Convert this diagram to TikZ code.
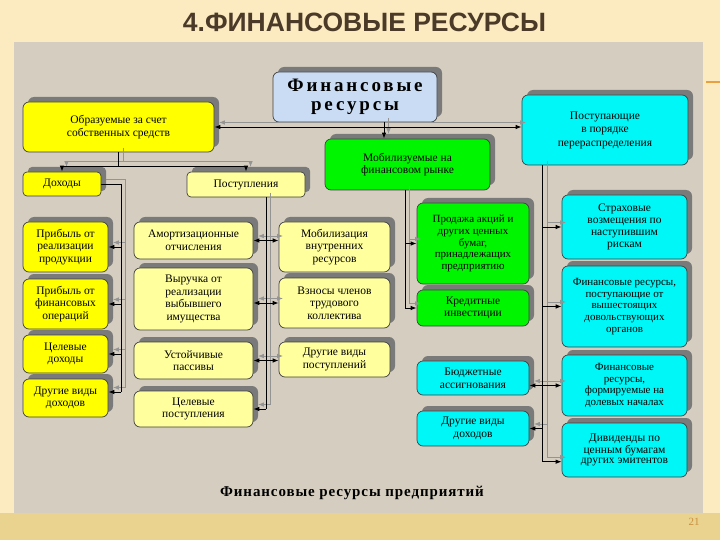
\documentclass[tikz,border=0pt]{standalone}
\usepackage{fontspec}
\setmainfont{Liberation Serif}
\newfontfamily\titlefont{Liberation Sans}
\newfontfamily\wideserif[LetterSpace=15]{Liberation Serif}
\newfontfamily\capserif[LetterSpace=6]{Liberation Serif}
\usetikzlibrary{arrows.meta,shadows}

\definecolor{bgtop}{HTML}{FCEBC0}
\definecolor{bgbot}{HTML}{E9D38F}
\definecolor{linen}{HTML}{D5CEC0}
\definecolor{titlecol}{HTML}{4B3A28}
\definecolor{ybright}{HTML}{FFFF00}
\definecolor{ypale}{HTML}{FFFF9E}
\definecolor{gbright}{HTML}{00F500}
\definecolor{cbright}{HTML}{00F7F7}
\definecolor{topblue}{HTML}{CADCF4}
\definecolor{orangeline}{HTML}{E8A040}
\definecolor{pagenum}{HTML}{C9923F}

\newcommand\boxfont{\fontsize{11.5}{12.6}\selectfont}

\newcommand\links[1]{%
\draw[#1,myarr] (top.south -| xT) -- (mob.north -| xT);
\draw[#1,mydarr] (obr.east |- yB) -- (pos.west |- yB);
\draw[#1,myarr] (obr.south) -- (obr.south |- yD) -| (doh.north);
\draw[#1,myarr] (obr.south |- yD) -| (post.north);
\draw[#1] (doh.east) -| (xL |- yL4);
\draw[#1,myarr] (xL |- l1.east) -- (l1.east);
\draw[#1,myarr] (xL |- l2.east) -- (l2.east);
\draw[#1,myarr] (xL |- l3.east) -- (l3.east);
\draw[#1,myarr] (xL |- yL4) -- (l4.east |- yL4);
\draw[#1] (post.south -| xM) -- (xM |- m4.east);
\draw[#1,mydarr] (m1.east) -- (m1.east -| n1.west);
\draw[#1,mydarr] (m2.east |- n2.west) -- (n2.west);
\draw[#1,mydarr] (m3.east) -- (m3.east -| n3.west);
\draw[#1,myarr] (xM |- m4.east) -- (m4.east);
\draw[#1,myarr] (mob.south -| xG) |- (g2.west);
\draw[#1,myarr] (xG |- g1.west) -- (g1.west);
\draw[#1] (pos.south -| xC) -- (xC |- yC5);
\draw[#1,myarr] (xC |- c1.west) -- (c1.west);
\draw[#1,myarr] (xC |- c2.west) -- (c2.west);
\draw[#1,mydarr] (b1.east |- c3.west) -- (c3.west);
\draw[#1,myarr] (xC |- b2.east) -- (b2.east);
\draw[#1,myarr] (xC |- yC5) -- (c4.west |- yC5);
}

\begin{document}
\begin{tikzpicture}[x=1pt,y=-1pt,
  box/.style={draw=black!75, line width=0.7pt, rounded corners=6pt, align=center,
    inner sep=1pt, font=\boxfont,
    drop shadow={shadow xshift=5pt, shadow yshift=5pt, fill=black!52, opacity=1}},
  yb/.style={box, fill=ybright},
  yp/.style={box, fill=ypale},
  gb/.style={box, fill=gbright},
  cb/.style={box, fill=cbright},
  myarr/.style={-{Latex[length=6pt,width=4.5pt]}},
  mydarr/.style={{Latex[length=6pt,width=4.5pt]}-{Latex[length=6pt,width=4.5pt]}},
  mainline/.style={draw=black, line width=0.9pt},
  shline/.style={draw=black!42, line width=0.9pt}]

\useasboundingbox (0,0) rectangle (720,540);
\fill[bgtop] (0,0) rectangle (720,540);
\fill[bgbot] (0,513) rectangle (720,540);
\fill[linen] (14,42) rectangle (703,513);
\draw[orangeline, line width=1.2pt] (706,82) -- (720,82);

\node[font=\titlefont\bfseries\fontsize{26.5}{29}\selectfont, text=titlecol, anchor=base] (title) at (364.5,32) {4.ФИНАНСОВЫЕ РЕСУРСЫ};
\node[font=\fontsize{11}{12}\selectfont, text=pagenum] (page) at (694,522) {21};

% boxes
\node[box, fill=topblue, minimum width=164pt, minimum height=50pt,
  font=\wideserif\bfseries\fontsize{19}{19.5}\selectfont] (top) at (355,97) {Финансовые\\ресурсы};
\node[yb, minimum width=191pt, minimum height=50pt] (obr) at (118.5,127) {Образуемые за счет\\собственных средств};
\node[gb, minimum width=165pt, minimum height=51pt] (mob) at (407.5,164.5) {Мобилизуемые на\\финансовом  рынке};
\node[cb, minimum width=166pt, minimum height=70pt, font=\fontsize{11.5}{13.5}\selectfont] (pos) at (605,130) {Поступающие\\в порядке\\перераспределения};
\node[yb, minimum width=78pt, minimum height=24pt, rounded corners=4pt] (doh) at (62,184) {Доходы};
\node[yp, minimum width=118pt, minimum height=25pt, rounded corners=4pt] (post) at (246,184.5) {Поступления};

\node[yb, minimum width=85pt, minimum height=50pt] (l1) at (65.5,247) {Прибыль от\\реализации\\продукции};
\node[yb, minimum width=85pt, minimum height=50pt] (l2) at (65.5,304) {Прибыль от\\финансовых\\операций};
\node[yb, minimum width=85pt, minimum height=38pt] (l3) at (65.5,354) {Целевые\\доходы};
\node[yb, minimum width=85pt, minimum height=38pt] (l4) at (65.5,398) {Другие виды\\доходов};

\node[yp, minimum width=119pt, minimum height=37pt] (m1) at (193.5,240.5) {Амортизационные\\отчисления};
\node[yp, minimum width=119pt, minimum height=62pt] (m2) at (193.5,299) {Выручка от\\реализации\\выбывшего\\имущества};
\node[yp, minimum width=119pt, minimum height=37pt] (m3) at (193.5,360.5) {Устойчивые\\пассивы};
\node[yp, minimum width=119pt, minimum height=36pt] (m4) at (193.5,409) {Целевые\\поступления};

\node[yp, minimum width=111pt, minimum height=50pt] (n1) at (334.5,247) {Мобилизация\\внутренних\\ресурсов};
\node[yp, minimum width=111pt, minimum height=50pt] (n2) at (334.5,303) {Взносы членов\\трудового\\коллектива};
\node[yp, minimum width=111pt, minimum height=35pt] (n3) at (334.5,359.5) {Другие виды\\поступлений};

\node[gb, minimum width=112pt, minimum height=81pt, font=\fontsize{11}{11.8}\selectfont] (g1) at (473,243.5) {Продажа акций и\\других ценных\\бумаг,\\принадлежащих\\предприятию};
\node[gb, minimum width=112pt, minimum height=36pt] (g2) at (473,308) {Кредитные\\инвестиции};

\node[cb, minimum width=112pt, minimum height=34pt] (b1) at (473,378) {Бюджетные\\ассигнования};
\node[cb, minimum width=112pt, minimum height=35pt] (b2) at (473,428.5) {Другие виды\\доходов};

\node[cb, minimum width=125pt, minimum height=64pt, font=\fontsize{11.5}{12}\selectfont] (c1) at (624.5,227) {Страховые\\возмещения  по\\наступившим\\рискам};
\node[cb, minimum width=125pt, minimum height=81pt, font=\fontsize{11}{11.6}\selectfont] (c2) at (624.5,306.5) {Финансовые ресурсы,\\поступающие от\\вышестоящих\\довольствующих\\органов};
\node[cb, minimum width=125pt, minimum height=61pt, font=\fontsize{11}{11.8}\selectfont] (c3) at (624.5,385.5) {Финансовые\\ресурсы,\\формируемые на\\долевых началах};
\node[cb, minimum width=125pt, minimum height=54pt, font=\fontsize{11.5}{10.5}\selectfont] (c4) at (624.5,450) {Дивиденды  по\\ценным бумагам\\других эмитентов};

\node[font=\capserif\bfseries\fontsize{15}{17}\selectfont] (cap) at (352,493) {Финансовые ресурсы предприятий};

% helper coordinates
\coordinate (xT) at (384,0);
\coordinate (yB) at (0,127);
\coordinate (yD) at (0,166);
\coordinate (xL) at (121,0);
\coordinate (yL4) at (0,392);
\coordinate (xM) at (266,0);
\coordinate (xG) at (405,0);
\coordinate (xC) at (542.7,0);
\coordinate (yC5) at (0,461.7);

\begin{scope}[transform canvas={xshift=4.5pt,yshift=4.5pt}]
\links{shline}
\end{scope}
\links{mainline}
\end{tikzpicture}
\end{document}
